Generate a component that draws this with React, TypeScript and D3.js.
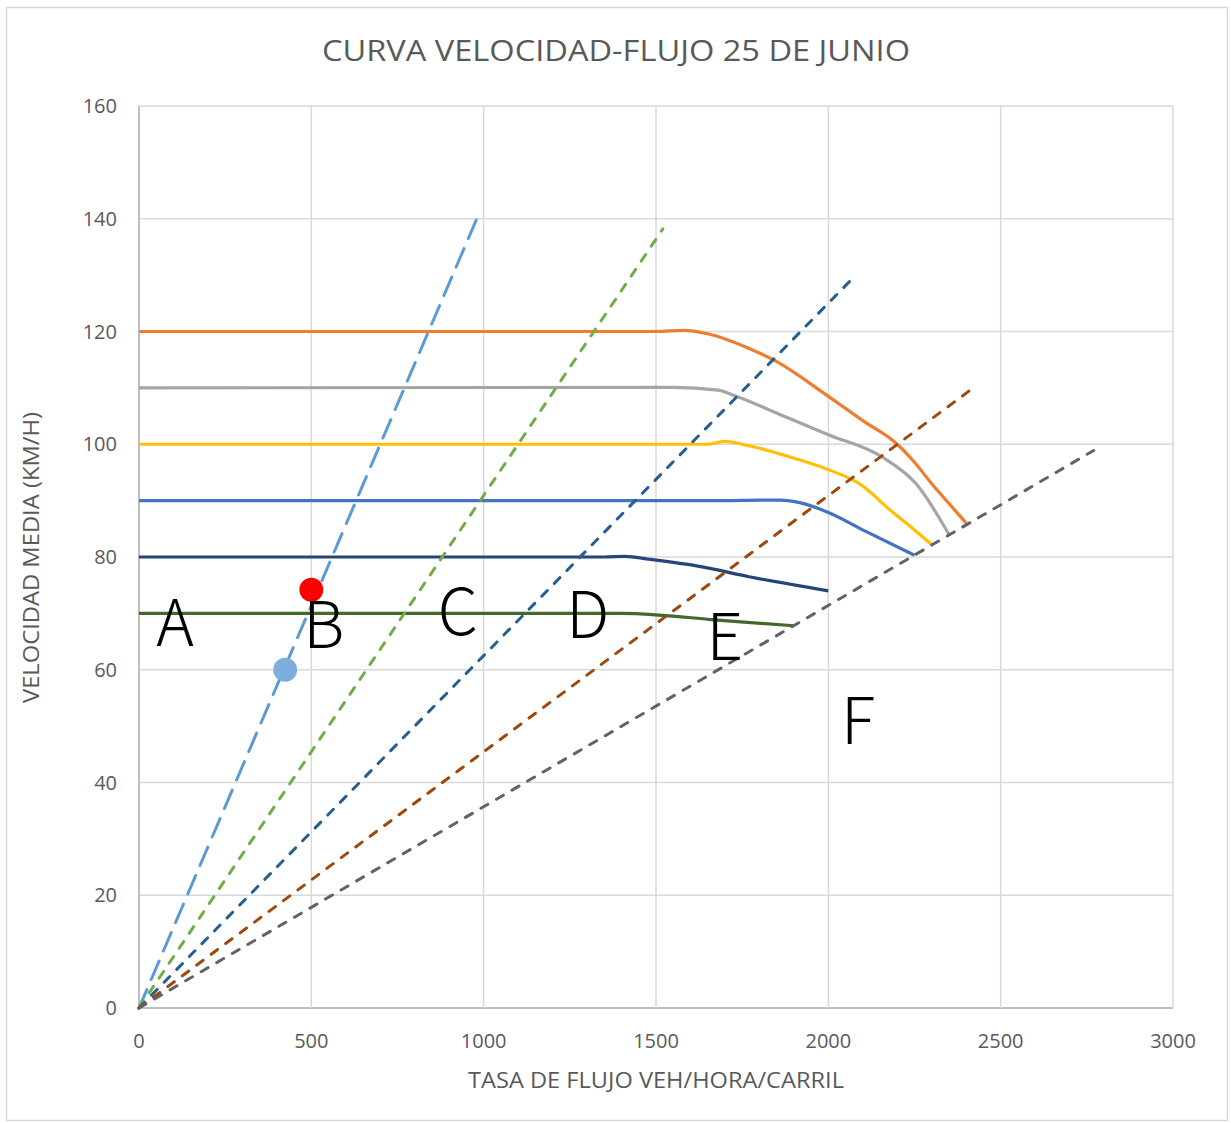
import React from "react";
import * as d3 from "d3";

const W = 1231;
const H = 1123;

const xTicks = [0, 500, 1000, 1500, 2000, 2500, 3000];
const yTicks = [0, 20, 40, 60, 80, 100, 120, 140, 160];

// speed-flow curves [flow, speed]
const curve120: [number, number][] = [[0, 120], [1500, 120], [1580, 120.2], [1650, 119.6], [1770, 117], [1840, 115], [2000, 108.5], [2100, 104.2], [2200, 100], [2250, 96.8], [2300, 93], [2350, 89.5], [2400, 86]];
const curve110: [number, number][] = [[0, 110], [1550, 110.1], [1680, 109.6], [1725, 108.7], [1870, 105], [2000, 101.7], [2160, 97.6], [2256, 92.9], [2350, 84]];
const curve100: [number, number][] = [[0, 100], [1650, 100], [1700, 100.5], [1750, 100], [1880, 97.9], [2000, 95.5], [2090, 93], [2180, 88.3], [2250, 84.8], [2300, 82.2]];
const curve90: [number, number][] = [[0, 90], [1700, 90], [1800, 90.1], [1860, 90.1], [1920, 89.6], [2000, 87.9], [2110, 84.5], [2250, 80.3]];
const curve80: [number, number][] = [[0, 80], [1350, 80], [1410, 80.1], [1480, 79.6], [1630, 78.3], [1770, 76.5], [2000, 74]];
const curve70: [number, number][] = [[0, 70], [1400, 70], [1510, 69.7], [1660, 68.9], [1900, 67.8]];

// density lines (LOS thresholds) [flow, speed]
const losA: [number, number][] = [[0, 0], [980, 140]];
const losB: [number, number][] = [[0, 0], [1520, 138.2]];
const losC: [number, number][] = [[0, 0], [2070, 129.4]];
const losD: [number, number][] = [[0, 0], [2425, 110.2]];
const losE: [number, number][] = [[0, 0], [2770, 98.9]];

// scatter points
const pointRed: [number, number] = [500, 74.2];
const pointBlue: [number, number] = [424, 60];

// region labels [text, flow, speed]
const regionLabels: [string, number, number][] = [
  ["A", 105, 64.3],
  ["B", 536, 63.9],
  ["C", 925, 66.2],
  ["D", 1302, 65.7],
  ["E", 1700, 61.7],
  ["F", 2086, 46.9],
];

const ML = 139, MR = 1173, MT = 106, MB = 1008;

export default function App() {
  const x = d3.scaleLinear().domain([0, 3000]).range([ML, MR]);
  const y = d3.scaleLinear().domain([0, 160]).range([MB, MT]);
  const smooth = d3.line<[number, number]>().x(d => x(d[0])).y(d => y(d[1])).curve(d3.curveMonotoneX);
  const straight = d3.line<[number, number]>().x(d => x(d[0])).y(d => y(d[1]));

  const font = "'Open Sans', 'Noto Sans', sans-serif";
  const solids: [[number, number][], string][] = [
    [curve120, "#ED7D31"],
    [curve110, "#A5A5A5"],
    [curve100, "#FFC000"],
    [curve90, "#4472C4"],
    [curve80, "#264478"],
    [curve70, "#43682B"],
  ];
  const dashes: [[number, number][], string, string][] = [
    [losA, "#5B9BD5", "20 11"],
    [losB, "#70AD47", "8 10"],
    [losC, "#255E91", "8 10"],
    [losD, "#9E480E", "8 10"],
    [losE, "#636363", "8 10"],
  ];

  return (
    <svg width={W} height={H} style={{ position: "absolute", left: 0, top: 0, background: "#fff" }}>
      <rect x={6.5} y={7.5} width={1221} height={1113} fill="#fff" stroke="#D9D9D9" strokeWidth={1.5} />
      <text x={616} y={61} textAnchor="middle" fontFamily={font} fontSize={30} fill="#595959" textLength={588} lengthAdjust="spacingAndGlyphs">CURVA VELOCIDAD-FLUJO 25 DE JUNIO</text>

      {yTicks.map(t => (
        <line key={"gy" + t} x1={ML} x2={MR} y1={y(t)} y2={y(t)} stroke={t === 0 ? "#BFBFBF" : "#D9D9D9"} strokeWidth={t === 0 ? 2 : 1.5} />
      ))}
      {xTicks.map(t => (
        <line key={"gx" + t} x1={x(t)} x2={x(t)} y1={MT} y2={MB} stroke={t === 0 ? "#BFBFBF" : "#D9D9D9"} strokeWidth={t === 0 ? 2 : 1.5} />
      ))}

      {yTicks.map(t => (
        <text key={"ly" + t} x={117} y={y(t) + 7} textAnchor="end" fontFamily={font} fontSize={20} fill="#595959">{t}</text>
      ))}
      {xTicks.map(t => (
        <text key={"lx" + t} x={x(t)} y={1048} textAnchor="middle" fontFamily={font} fontSize={20} fill="#595959">{t}</text>
      ))}

      <text x={656} y={1088} textAnchor="middle" fontFamily={font} fontSize={21} fill="#595959" textLength={376} lengthAdjust="spacingAndGlyphs">TASA DE FLUJO VEH/HORA/CARRIL</text>
      <text transform={`translate(39, ${557.5}) rotate(-90)`} textAnchor="middle" fontFamily={font} fontSize={21} fill="#595959" textLength={291} lengthAdjust="spacingAndGlyphs">VELOCIDAD MEDIA (KM/H)</text>

      {solids.map(([d, c], i) => (
        <path key={"s" + i} d={smooth(d) || ""} fill="none" stroke={c} strokeWidth={3.2} strokeLinejoin="round" />
      ))}
      {dashes.map(([d, c, da], i) => (
        <path key={"d" + i} d={straight(d) || ""} fill="none" stroke={c} strokeWidth={3} strokeDasharray={da} strokeLinecap="round" />
      ))}

      <circle cx={x(pointBlue[0])} cy={y(pointBlue[1])} r={12} fill="#7EAEDE" />
      <circle cx={x(pointRed[0])} cy={y(pointRed[1])} r={12} fill="#FF0000" />

      {regionLabels.map(([t, fx, fy]) => (
        <text key={t} x={x(fx)} y={y(fy)} textAnchor="middle" fontFamily="'Noto Sans CJK JP', 'Noto Sans', sans-serif" fontWeight={300} fontSize={64} fill="#000">{t}</text>
      ))}
    </svg>
  );
}
